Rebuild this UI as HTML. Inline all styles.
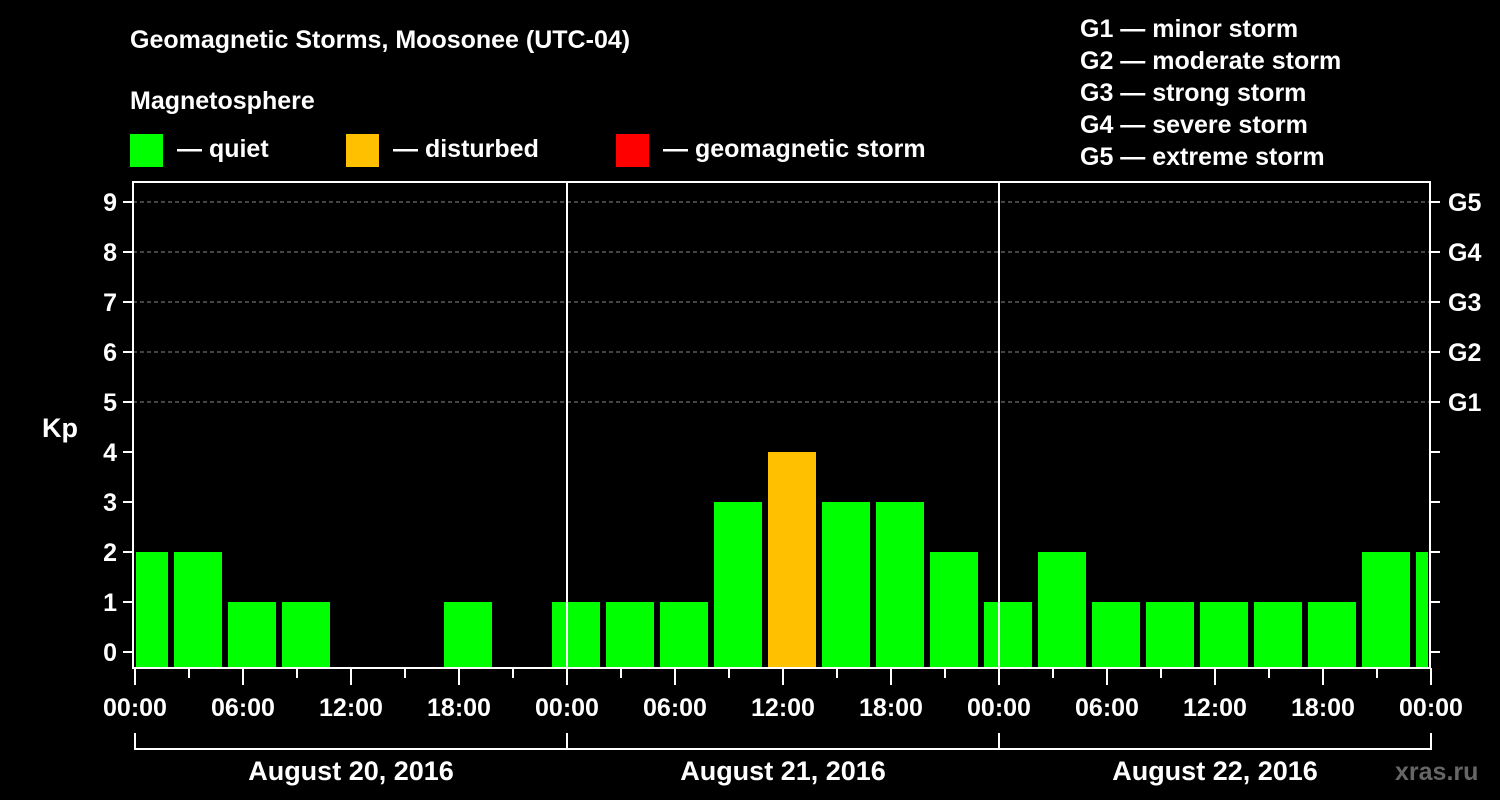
<!DOCTYPE html>
<html><head><meta charset="utf-8"><style>
body{margin:0;background:#000;width:1500px;height:800px;overflow:hidden}
svg{display:block}
text{font-family:"Liberation Sans",Arial,sans-serif;font-weight:bold;fill:#fff}
</style></head><body>
<svg id="c" width="1500" height="800">
<text x="130" y="48" font-size="25">Geomagnetic Storms, Moosonee (UTC-04)</text>
<text x="130" y="109" font-size="25">Magnetosphere</text>
<g><rect x="130" y="134" width="33" height="33" fill="#00ff00"/><text x="177" y="157" font-size="25">— quiet</text></g>
<g><rect x="346" y="134" width="33" height="33" fill="#ffc000"/><text x="393" y="157" font-size="25">— disturbed</text></g>
<g><rect x="616" y="134" width="33" height="33" fill="#ff0000"/><text x="663" y="157" font-size="25">— geomagnetic storm</text></g>
<g font-size="25">
<text x="1080" y="37">G1 — minor storm</text><text x="1080" y="69">G2 — moderate storm</text><text x="1080" y="101">G3 — strong storm</text><text x="1080" y="133">G4 — severe storm</text><text x="1080" y="165">G5 — extreme storm</text></g>
<text x="42" y="437" font-size="27">Kp</text>
<text x="1395" y="780" font-size="25" fill="#555" style="fill:#666">xras.ru</text>
<g id="g"></g>
</svg>
<script>
const kpValues=[2,2,1,1,0,0,1,0,1,1,1,3,4,3,3,2,1,2,1,1,1,1,1,2,2];
const yTicks=[0,1,2,3,4,5,6,7,8,9];
const gLabels=["G1","G2","G3","G4","G5"];
const hourLabels=["00:00","06:00","12:00","18:00"];
const dayLabels=["August 20, 2016","August 21, 2016","August 22, 2016"];
const NS="http://www.w3.org/2000/svg";
const g=document.getElementById('g');
const L=133,R=1430,T=182,B=668,X0=135,dayW=432;
const y=v=>652-v*50;
const x=h=>X0+h*18;
function mk(t,a,p){const e=document.createElementNS(NS,t);for(const k in a)e.setAttribute(k,a[k]);(p||g).appendChild(e);return e;}
// clip
const cp=mk('clipPath',{id:'pc'});mk('rect',{x:136,y:T,width:1428-136,height:B-T},cp);
// grid
for(let v=5;v<=9;v++){const l=mk('line',{x1:L,x2:R,y1:y(v),y2:y(v),stroke:'#888','stroke-dasharray':'4,3'});

}
// bars
kpValues.forEach((v,i)=>{if(v<=0)return;const c=x(i*3+0.5);
const r=mk('rect',{x:c-24,y:y(v),width:48,height:B-y(v),fill:v>=5?'#ff0000':v>=4?'#ffc000':'#00ff00','clip-path':'url(#pc)'});

});
// frame
mk('rect',{x:L,y:T,width:R-L,height:B-T,fill:'none',stroke:'#fff','stroke-width':2});
for(let d=1;d<3;d++)mk('line',{x1:x(d*24),x2:x(d*24),y1:T,y2:B,stroke:'#fff','stroke-width':2});
// y ticks
yTicks.forEach(v=>{mk('line',{x1:123,x2:L,y1:y(v),y2:y(v),stroke:'#fff','stroke-width':2});
mk('line',{x1:R,x2:1440,y1:y(v),y2:y(v),stroke:'#fff','stroke-width':2});
const t=mk('text',{x:117,y:y(v)+9,'font-size':25,'text-anchor':'end'});t.textContent=v;

});
gLabels.forEach((s,i)=>{const t=mk('text',{x:1448,y:y(5+i)+9,'font-size':25});t.textContent=s;

});
// x ticks
for(let h=0;h<=72;h+=3){const big=h%6==0;mk('line',{x1:x(h),x2:x(h),y1:B,y2:B+(big?17:10),stroke:'#fff','stroke-width':2});}
for(let h=0;h<=72;h+=6){const t=mk('text',{x:x(h),y:716,'font-size':25,'text-anchor':'middle'});t.textContent=hourLabels[(h/6)%4];

}
// date bracket
mk('line',{x1:X0,x2:x(72),y1:749,y2:749,stroke:'#fff','stroke-width':2});
for(let d=0;d<=3;d++)mk('line',{x1:x(d*24),x2:x(d*24),y1:733,y2:750,stroke:'#fff','stroke-width':2});
dayLabels.forEach((s,i)=>{const t=mk('text',{x:x(i*24+12),y:780,'font-size':27,'text-anchor':'middle'});t.textContent=s;

});
</script>
</body></html>
